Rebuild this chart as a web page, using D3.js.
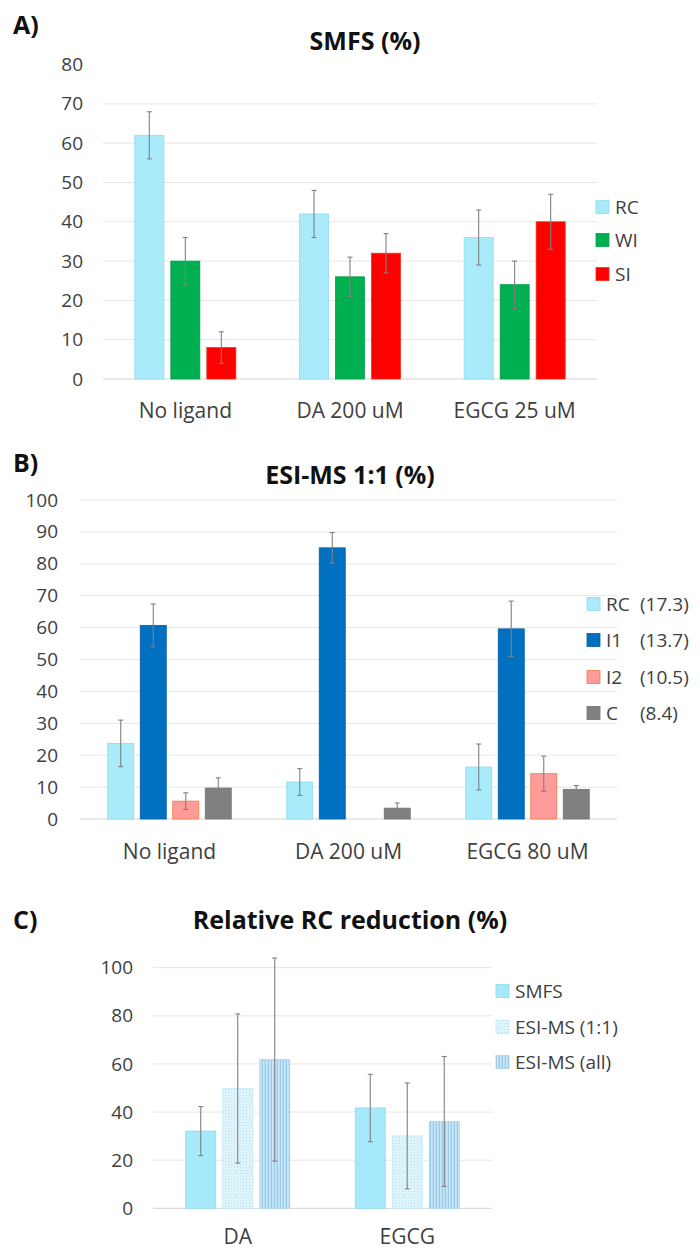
<!DOCTYPE html>
<html><head><meta charset="utf-8">
<script src="https://cdn.jsdelivr.net/npm/d3@7"></script>
<style>body{margin:0;background:#fff;} svg{display:block;font-family:"Open Sans",sans-serif;}</style>
</head><body><svg id="c" width="700" height="1252"></svg>
<script>
// ---------- Panel A: SMFS (%) ----------
const catsA = ["No ligand", "DA 200 uM", "EGCG 25 uM"];
const seriesA = ["RC", "WI", "SI"];
const rcA = [62, 42, 36];
const rcAerr = [6, 6, 7];
const wiA = [30, 26, 24];
const wiAerr = [6, 5, 6];
const siA = [8, 32, 40];
const siAerr = [4, 5, 7];
const ticksA = [0, 10, 20, 30, 40, 50, 60, 70, 80];

// ---------- Panel B: ESI-MS 1:1 (%) ----------
const catsB = ["No ligand", "DA 200 uM", "EGCG 80 uM"];
const seriesB = ["RC", "I1", "I2", "C"];
const legendValsB = ["(17.3)", "(13.7)", "(10.5)", "(8.4)"];
const rcB = [23.7, 11.6, 16.3];
const rcBerr = [7.3, 4.2, 7.2];
const i1B = [60.7, 85, 59.6];
const i1Berr = [6.7, 4.8, 8.7];
const i2B = [5.6, 0, 14.2];
const i2Berr = [2.6, null, 5.5];
const cB = [9.7, 3.4, 9.3];
const cBerr = [3.2, 1.6, 1.2];
const ticksB = [0, 10, 20, 30, 40, 50, 60, 70, 80, 90, 100];

// ---------- Panel C: Relative RC reduction (%) ----------
const catsC = ["DA", "EGCG"];
const seriesC = ["SMFS", "ESI-MS (1:1)", "ESI-MS (all)"];
const smfsC = [32.1, 41.7];
const smfsCerr = [10.2, 14];
const esi11C = [49.8, 30.1];
const esi11Cerr = [31, 22];
const esiAllC = [61.8, 36.1];
const esiAllCerr = [42.2, 27];
const ticksC = [0, 20, 40, 60, 80, 100];

const svg = d3.select("#c");
const defs = svg.append("defs");
// dotted pattern
const p1 = defs.append("pattern").attr("id", "dots").attr("patternUnits", "userSpaceOnUse").attr("width", 3).attr("height", 3);
p1.append("rect").attr("width", 3).attr("height", 3).attr("fill", "#E4F7FD");
p1.append("rect").attr("x", 0).attr("y", 0).attr("width", 1).attr("height", 1).attr("fill", "#A9DDF0");
p1.append("rect").attr("x", 1.5).attr("y", 1.5).attr("width", 1).attr("height", 1).attr("fill", "#BFE6F4");
// stripes pattern
const p2 = defs.append("pattern").attr("id", "stripes").attr("patternUnits", "userSpaceOnUse").attr("width", 3).attr("height", 4);
p2.append("rect").attr("width", 3).attr("height", 4).attr("fill", "#C8E6F7");
p2.append("path").attr("d", "M1,0 L1.6,2 L1,4").attr("stroke", "#8EC3E6").attr("stroke-width", 1).attr("fill", "none");

function panel(o) {
  const g = svg.append("g");
  const y = d3.scaleLinear().domain(o.domain).range([o.y0, o.y1]);
  const x = d3.scaleBand().domain(o.cats).range([o.x0, o.x1]).padding(0);
  // gridlines
  g.selectAll("line.grid").data(o.ticks.filter(t => o.gridTop || t < o.domain[1])).enter().append("line")
    .attr("x1", o.x0).attr("x2", o.x1).attr("y1", d => y(d)).attr("y2", d => y(d))
    .attr("stroke", d => d === 0 ? "#d4d4d4" : "#e6e6e6").attr("stroke-width", 1);
  // y axis labels
  const ax = d3.axisLeft(y).tickValues(o.ticks).tickSize(0).tickPadding(0);
  const axg = g.append("g").attr("transform", `translate(${o.labelX},0)`).call(ax);
  axg.select(".domain").remove();
  axg.selectAll("text").attr("font-size", 19).attr("fill", "#404040").attr("font-family", "Open Sans, sans-serif");
  // x axis labels
  const xax = d3.axisBottom(x).tickSize(0).tickPadding(0);
  const xg = g.append("g").attr("transform", `translate(0,${o.xLabelY})`).call(xax);
  xg.select(".domain").remove();
  xg.selectAll("text").attr("font-size", 21).attr("fill", "#404040").attr("dy", 0).attr("font-family", "Open Sans, sans-serif");
  // bars
  o.series.forEach((s, si) => {
    o.cats.forEach((c, ci) => {
      const v = o.values[si][ci];
      const e = o.errors[si][ci];
      const cx = x(c) + x.bandwidth() / 2;
      const inner = d3.scaleBand().domain(o.series)
        .range([cx - o.series.length * o.step / 2, cx + o.series.length * o.step / 2])
        .paddingInner((o.step - o.bw) / o.step).paddingOuter((o.step - o.bw) / (2 * o.step));
      const bx = inner(s);
      if (v > 0) {
        g.append("rect").attr("x", bx).attr("y", y(v)).attr("width", inner.bandwidth()).attr("height", y(0) - y(v))
          .attr("fill", o.fills[si]).attr("stroke", o.strokes[si]).attr("stroke-width", 0.8);
      }
      if (e != null && v > 0) {
        const ex = bx + inner.bandwidth() / 2;
        g.append("line").attr("x1", ex).attr("x2", ex).attr("y1", y(v + e)).attr("y2", y(v - e))
          .attr("stroke", "#808080").attr("stroke-width", 1.1);
        [v + e, v - e].forEach(t => g.append("line").attr("x1", ex - 2.5).attr("x2", ex + 2.5).attr("y1", y(t)).attr("y2", y(t))
          .attr("stroke", "#808080").attr("stroke-width", 1.1));
      }
    });
  });
  // legend
  o.series.forEach((s, si) => {
    const ly = o.legendY[si];
    g.append("rect").attr("x", o.legendX).attr("y", ly - 6.5).attr("width", 13).attr("height", 13)
      .attr("fill", o.fills[si]).attr("stroke", o.strokes[si]).attr("stroke-width", 0.8);
    g.append("text").attr("x", o.legendX + 19).attr("y", ly + 6.5).attr("font-size", 19).attr("fill", "#404040").text(s);
    if (o.legendExtra) g.append("text").attr("x", o.legendX + 53).attr("y", ly + 6.5).attr("font-size", 19).attr("fill", "#404040").text(o.legendExtra[si]);
  });
  // titles
  g.append("text").attr("x", o.titleX).attr("y", o.titleY).attr("text-anchor", "middle").attr("font-size", 25)
    .attr("font-weight", "bold").attr("fill", "#111").text(o.title);
  g.append("text").attr("x", 13).attr("y", o.tagY).attr("font-size", 25).attr("font-weight", "bold").attr("fill", "#111").text(o.tag);
}

panel({
  cats: catsA, series: seriesA, values: [rcA, wiA, siA], errors: [rcAerr, wiAerr, siAerr],
  domain: [0, 80], ticks: ticksA, y0: 379, y1: 64.6, x0: 103, x1: 597, labelX: 83, xLabelY: 418,
  step: 36, bw: 29, gridTop: false,
  fills: ["#A9EBFA", "#00B050", "#FF0000"], strokes: ["#8FDAF0", "#00A048", "#F03010"],
  legendX: 596, legendY: [207, 240, 274], title: "SMFS (%)", titleX: 365, titleY: 50, tag: "A)", tagY: 34
});

panel({
  cats: catsB, series: seriesB, values: [rcB, i1B, i2B, cB], errors: [rcBerr, i1Berr, i2Berr, cBerr],
  domain: [0, 100], ticks: ticksB, y0: 819, y1: 500, x0: 80, x1: 617, labelX: 58, xLabelY: 859,
  step: 32.5, bw: 26, gridTop: true,
  fills: ["#A9EBFA", "#0070C0", "#FF9B98", "#808080"], strokes: ["#8FDAF0", "#005FA8", "#F07A45", "#737373"],
  legendX: 587, legendY: [604, 640, 677, 713], legendExtra: legendValsB,
  title: "ESI-MS 1:1 (%)", titleX: 350, titleY: 484, tag: "B)", tagY: 472
});

panel({
  cats: catsC, series: seriesC, values: [smfsC, esi11C, esiAllC], errors: [smfsCerr, esi11Cerr, esiAllCerr],
  domain: [0, 100], ticks: ticksC, y0: 1208.3, y1: 967.7, x0: 153, x1: 492, labelX: 133, xLabelY: 1244,
  step: 37, bw: 30, gridTop: true,
  fills: ["#A6E9FA", "url(#dots)", "url(#stripes)"], strokes: ["#8FDAF0", "#C5E8F4", "#A8D4EE"],
  legendX: 496, legendY: [991, 1027, 1062],
  title: "Relative RC reduction (%)", titleX: 350, titleY: 929, tag: "C)", tagY: 929
});
</script></body></html>
